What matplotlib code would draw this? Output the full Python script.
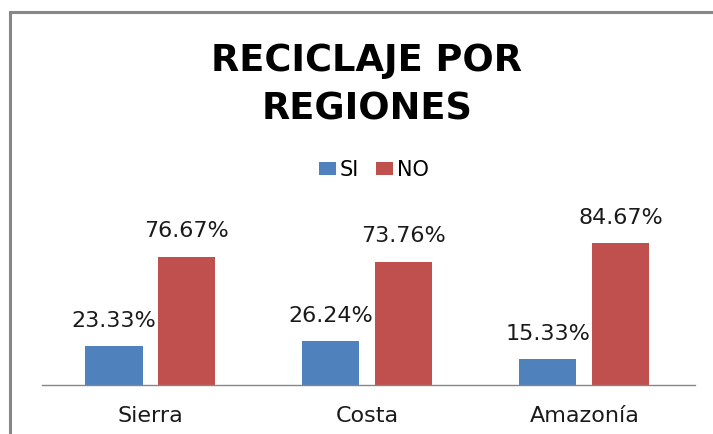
import matplotlib
matplotlib.use("Agg")
import matplotlib.pyplot as plt
from matplotlib.patches import Rectangle
import numpy as np

categories = ["Sierra", "Costa", "Amazonía"]
si_values = [23.33, 26.24, 15.33]
no_values = [76.67, 73.76, 84.67]
series_names = ["SI", "NO"]
title = "RECICLAJE POR\nREGIONES"

W, H = 713, 434
fig = plt.figure(figsize=(W / 100, H / 100), dpi=100)
fig.patch.set_facecolor("white")

# outer chart border (extends beyond right/bottom edges)
fig.patches.append(Rectangle((9.5 / W, -0.1), 1.2, (H - 12) / H + 0.1,
                             transform=fig.transFigure, fill=False,
                             edgecolor="#878787", linewidth=2.2))

ax = fig.add_axes([42 / W, 49 / H, (695 - 42) / W, 167.4 / H])
x = np.arange(len(categories))
bw = 0.263
off = 0.168
blue = "#4F81BD"
red = "#C0504D"
b1 = ax.bar(x - off, si_values, bw, color=blue, label=series_names[0])
b2 = ax.bar(x + off, no_values, bw, color=red, label=series_names[1])

for bars, vals in ((b1, si_values), (b2, no_values)):
    for rect, v in zip(bars, vals):
        ax.annotate(f"{v:.2f}%", (rect.get_x() + rect.get_width() / 2, rect.get_height()),
                    xytext=(0, 11), textcoords="offset points",
                    ha="center", va="bottom", fontsize=16, color="#1a1a1a")

ax.set_xlim(-0.5, 2.51)
ax.set_ylim(0, 100)
ax.set_xticks(x)
ax.set_xticklabels(categories, fontsize=16, color="#1a1a1a")
ax.tick_params(axis="x", length=0, pad=15)
ax.set_yticks([])
for s in ("left", "right", "top"):
    ax.spines[s].set_visible(False)
ax.spines["bottom"].set_color("#868686")
ax.spines["bottom"].set_linewidth(1.0)
ax.patch.set_alpha(0)

fig.text(367 / W, 1 - 42 / H, title, ha="center", va="top", fontsize=26.5,
         fontweight="bold", linespacing=1.38, color="black")

fig.legend(handles=[b1, b2], labels=series_names, loc="center",
           bbox_to_anchor=(374 / W, 1 - 170 / H), ncol=2, frameon=False,
           fontsize=15, handlelength=0.8, handleheight=0.6,
           handletextpad=0.2, columnspacing=0.8, borderpad=0)

fig.savefig("out.png", dpi=100)
